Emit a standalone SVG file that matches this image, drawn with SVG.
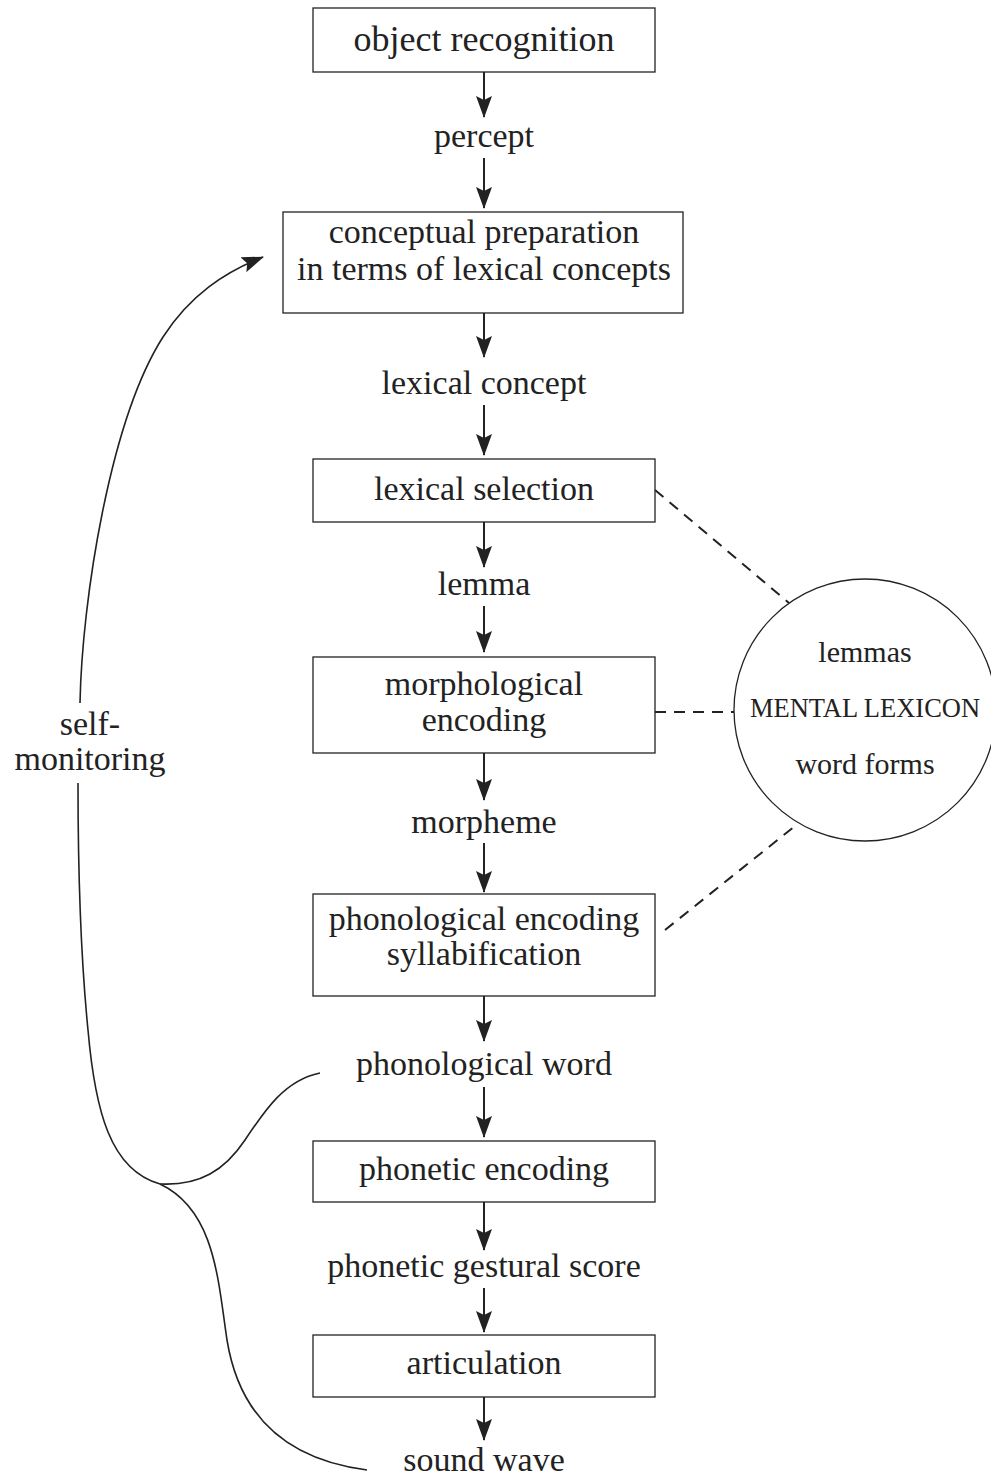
<svg xmlns="http://www.w3.org/2000/svg" width="991" height="1482" viewBox="0 0 991 1482">
<style>
.box{fill:#fff;stroke:#222;stroke-width:1.3}
.t{font-family:"Liberation Serif","Times New Roman",serif;font-size:34px;fill:#222;text-anchor:middle}
.s{font-family:"Liberation Serif","Times New Roman",serif;font-size:30px;fill:#222;text-anchor:middle}
.m{font-family:"Liberation Serif","Times New Roman",serif;font-size:26.5px;fill:#222;text-anchor:middle}
.arr{stroke:#222;stroke-width:2;fill:none}
.dash{stroke:#222;stroke-width:2;fill:none;stroke-dasharray:11 8}
.curve{stroke:#222;stroke-width:1.6;fill:none}
</style>
<defs>
<marker id="ah" viewBox="0 0 22 16" refX="21" refY="8" markerWidth="22" markerHeight="16" markerUnits="userSpaceOnUse" orient="auto">
<path d="M0,0 L22,8 L0,16 L4,8 Z" fill="#222"/>
</marker>
</defs>
<rect width="991" height="1482" fill="#fff"/>
<g id="connectors">
<line class="arr" x1="484" y1="72" x2="484" y2="117" marker-end="url(#ah)"/>
<line class="arr" x1="484" y1="158" x2="484" y2="208" marker-end="url(#ah)"/>
<line class="arr" x1="484" y1="313" x2="484" y2="357" marker-end="url(#ah)"/>
<line class="arr" x1="484" y1="405" x2="484" y2="455" marker-end="url(#ah)"/>
<line class="arr" x1="484" y1="522" x2="484" y2="567" marker-end="url(#ah)"/>
<line class="arr" x1="484" y1="606" x2="484" y2="652" marker-end="url(#ah)"/>
<line class="arr" x1="484" y1="753" x2="484" y2="800" marker-end="url(#ah)"/>
<line class="arr" x1="484" y1="843" x2="484" y2="892" marker-end="url(#ah)"/>
<line class="arr" x1="484" y1="996" x2="484" y2="1041" marker-end="url(#ah)"/>
<line class="arr" x1="484" y1="1087" x2="484" y2="1137" marker-end="url(#ah)"/>
<line class="arr" x1="484" y1="1202" x2="484" y2="1250" marker-end="url(#ah)"/>
<line class="arr" x1="484" y1="1288" x2="484" y2="1332" marker-end="url(#ah)"/>
<line class="arr" x1="484" y1="1397" x2="484" y2="1440" marker-end="url(#ah)"/>
<line class="dash" x1="655" y1="490" x2="789" y2="603"/>
<line class="dash" x1="655" y1="712" x2="734" y2="712"/>
<line class="dash" x1="665" y1="930" x2="795" y2="826"/>
<path class="curve" d="M367,1470 C290,1460 240,1420 227,1340 C218,1280 215,1210 160,1184"/>
<path class="curve" d="M320,1073 C285,1080 265,1110 245,1140 C225,1170 200,1186 160,1184"/>
<path class="curve" d="M160,1184 C110,1170 95,1110 88,1030 C80,950 78,870 78,783"/>
<path class="curve" d="M80,703 C82,600 110,420 163,337 C190,295 225,272 263,257" marker-end="url(#ah)"/>
</g>
<g id="n-object"><rect class="box" x="313" y="8" width="342" height="64"/><text class="t" x="484" y="51" style="font-size:36px">object recognition</text></g>
<g id="l-percept"><text class="t" x="484" y="147">percept</text></g>
<g id="n-conceptual"><rect class="box" x="283" y="212" width="400" height="101"/><text class="t" x="484" y="243">conceptual preparation</text><text class="t" x="484" y="280">in terms of lexical concepts</text></g>
<g id="l-lexconcept"><text class="t" x="484" y="394">lexical concept</text></g>
<g id="n-lexsel"><rect class="box" x="313" y="459" width="342" height="63"/><text class="t" x="484" y="500">lexical selection</text></g>
<g id="l-lemma"><text class="t" x="484" y="595">lemma</text></g>
<g id="n-morph"><rect class="box" x="313" y="657" width="342" height="96"/><text class="t" x="484" y="695">morphological</text><text class="t" x="484" y="731">encoding</text></g>
<g id="l-morpheme"><text class="t" x="484" y="833">morpheme</text></g>
<g id="n-phon"><rect class="box" x="313" y="894" width="342" height="102"/><text class="t" x="484" y="930">phonological encoding</text><text class="t" x="484" y="965">syllabification</text></g>
<g id="l-phonword"><text class="t" x="484" y="1075">phonological word</text></g>
<g id="n-phonetic"><rect class="box" x="313" y="1141" width="342" height="61"/><text class="t" x="484" y="1180">phonetic encoding</text></g>
<g id="l-gestural"><text class="t" x="484" y="1277">phonetic gestural score</text></g>
<g id="n-artic"><rect class="box" x="313" y="1335" width="342" height="62"/><text class="t" x="484" y="1374">articulation</text></g>
<g id="l-sound"><text class="t" x="484" y="1471">sound wave</text></g>
<g id="n-lexicon"><circle class="box" cx="865" cy="710" r="131"/><text class="s" x="865" y="662">lemmas</text><text class="m" x="865" y="717">MENTAL LEXICON</text><text class="s" x="865" y="774">word forms</text></g>
<g id="l-selfmon"><text class="t" x="90" y="735">self-</text><text class="t" x="90" y="770">monitoring</text></g>
</svg>
